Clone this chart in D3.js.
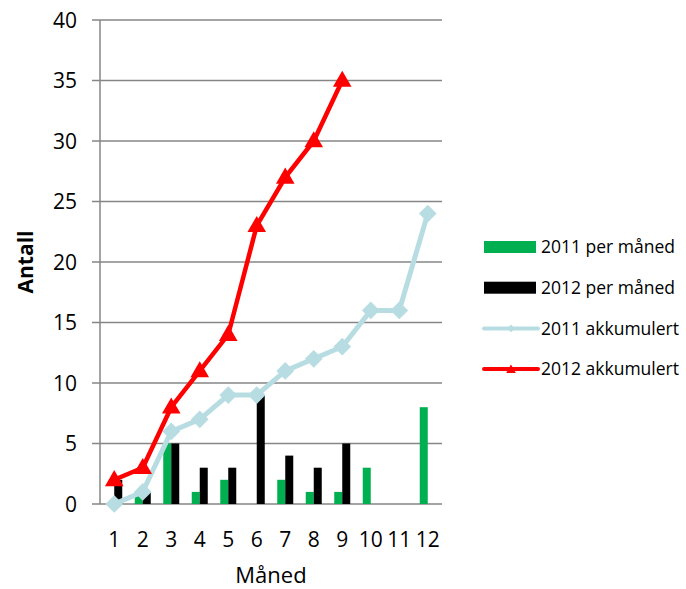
<!DOCTYPE html>
<meta charset="utf-8">
<style>
    body { margin: 0; background: #fff; }
    svg { font-family: "Open Sans", sans-serif; }
</style>
<script src="https://cdn.jsdelivr.net/npm/d3@7"></script>
<svg width="686" height="589"></svg>
<script>
    // data
    var maaneder = ["1", "2", "3", "4", "5", "6", "7", "8", "9", "10", "11", "12"];
    var perMaaned2011 = [0, 1, 5, 1, 2, 0, 2, 1, 1, 3, 0, 8];
    var perMaaned2012 = [2, 1, 5, 3, 3, 9, 4, 3, 5];
    var akk2011 = [0, 1, 6, 7, 9, 9, 11, 12, 13, 16, 16, 24];
    var akk2012 = [2, 3, 8, 11, 14, 23, 27, 30, 35];
    var yTicks = [0, 5, 10, 15, 20, 25, 30, 35, 40];

    var gronn = "#00B050", svart = "#000000", lysbla = "#B7DDE2", rod = "#FF0000", gra = "#868686";

    var svg = d3.select("svg");

    var x = d3.scaleBand().domain(maaneder).range([100, 442]);
    var y = d3.scaleLinear().domain([0, 40]).range([504, 20]);
    var bw = 8;

    // gridlines
    svg.append("g").selectAll("line")
        .data(yTicks)
        .enter().append("line")
        .attr("x1", 92).attr("x2", 442)
        .attr("y1", function (d) { return y(d); })
        .attr("y2", function (d) { return y(d); })
        .attr("stroke", gra).attr("stroke-width", 1.5);

    // y axis line
    svg.append("line")
        .attr("x1", 100).attr("x2", 100)
        .attr("y1", y(40)).attr("y2", y(0))
        .attr("stroke", gra).attr("stroke-width", 1.5);

    svg.append("g").selectAll("text")
        .data(yTicks)
        .enter().append("text")
        .attr("x", 77)
        .attr("y", function (d) { return y(d); })
        .attr("dy", "0.36em")
        .attr("text-anchor", "end")
        .attr("font-size", 21)
        .text(function (d) { return d; });

    svg.append("g").selectAll("text")
        .data(maaneder)
        .enter().append("text")
        .attr("x", function (d) { return x(d) + x.bandwidth() / 2; })
        .attr("y", 547)
        .attr("text-anchor", "middle")
        .attr("font-size", 21)
        .text(function (d) { return d; });

    svg.append("text")
        .attr("x", 271).attr("y", 583)
        .attr("text-anchor", "middle")
        .attr("font-size", 22)
        .text("Måned");

    svg.append("text")
        .attr("transform", "translate(33,262) rotate(-90)")
        .attr("text-anchor", "middle")
        .attr("font-size", 21)
        .attr("font-weight", "bold")
        .text("Antall");

    function cx(i) { return x(maaneder[i]) + x.bandwidth() / 2; }

    // bars
    svg.append("g").selectAll("rect")
        .data(perMaaned2011)
        .enter().append("rect")
        .attr("x", function (d, i) { return cx(i) - bw; })
        .attr("y", function (d) { return y(d); })
        .attr("width", bw)
        .attr("height", function (d) { return y(0) - y(d); })
        .attr("fill", gronn);

    svg.append("g").selectAll("rect")
        .data(perMaaned2012)
        .enter().append("rect")
        .attr("x", function (d, i) { return cx(i); })
        .attr("y", function (d) { return y(d); })
        .attr("width", bw)
        .attr("height", function (d) { return y(0) - y(d); })
        .attr("fill", svart);

    var linje = d3.line()
        .x(function (d, i) { return cx(i); })
        .y(function (d) { return y(d); });

    svg.append("path")
        .datum(akk2011)
        .attr("d", linje)
        .attr("fill", "none")
        .attr("stroke", lysbla)
        .attr("stroke-width", 5);

    svg.append("g").selectAll("path")
        .data(akk2011)
        .enter().append("path")
        .attr("transform", function (d, i) { return "translate(" + cx(i) + "," + y(d) + ")"; })
        .attr("d", d3.symbol().type(d3.symbolDiamond2).size(200))
        .attr("fill", lysbla);

    svg.append("path")
        .datum(akk2012)
        .attr("d", linje)
        .attr("fill", "none")
        .attr("stroke", rod)
        .attr("stroke-width", 4.5);

    svg.append("g").selectAll("path")
        .data(akk2012)
        .enter().append("path")
        .attr("transform", function (d, i) { return "translate(" + cx(i) + "," + (y(d) + 1) + ")"; })
        .attr("d", d3.symbol().type(d3.symbolTriangle).size(150))
        .attr("fill", rod);

    // legend
    var legende = [
        { navn: "2011 per måned", type: "bar", farge: gronn },
        { navn: "2012 per måned", type: "bar", farge: svart },
        { navn: "2011 akkumulert", type: "line", farge: lysbla },
        { navn: "2012 akkumulert", type: "line", farge: rod }
    ];

    var lg = svg.append("g").selectAll("g")
        .data(legende)
        .enter().append("g")
        .attr("transform", function (d, i) { return "translate(484," + (247 + i * 40.7) + ")"; });

    lg.filter(function (d) { return d.type == "bar"; })
        .append("rect")
        .attr("x", 0).attr("y", -6).attr("width", 52).attr("height", 12)
        .attr("fill", function (d) { return d.farge; });

    lg.filter(function (d) { return d.type == "line"; })
        .append("line")
        .attr("x1", 0).attr("x2", 54).attr("y1", 0).attr("y2", 0)
        .attr("stroke", function (d) { return d.farge; })
        .attr("stroke-width", 4)
        .attr("stroke-linecap", "round");

    lg.filter(function (d, i) { return i == 2; })
        .append("path")
        .attr("transform", "translate(27,0)")
        .attr("d", d3.symbol().type(d3.symbolDiamond2).size(40))
        .attr("fill", lysbla);

    lg.filter(function (d, i) { return i == 3; })
        .append("path")
        .attr("transform", "translate(27,1)")
        .attr("d", d3.symbol().type(d3.symbolTriangle).size(40))
        .attr("fill", rod);

    lg.append("text")
        .attr("x", 57)
        .attr("dy", "0.36em")
        .attr("font-size", 17.5)
        .text(function (d) { return d.navn; });
</script>
